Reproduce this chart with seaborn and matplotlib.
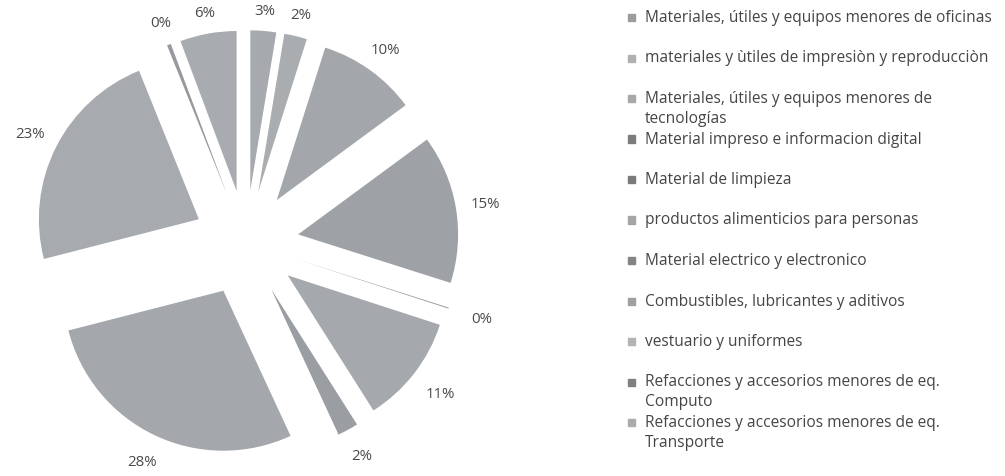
import matplotlib
matplotlib.use("Agg")
import numpy as np
import matplotlib.pyplot as plt
import seaborn as sns
from matplotlib.patches import Rectangle

# slice labels (legend order = clockwise order from 12 o'clock)
categories = [
    "Materiales, útiles y equipos menores de oficinas",
    "materiales y ùtiles de impresiòn y reproducciòn",
    "Materiales, útiles y equipos menores de\ntecnologías",
    "Material impreso e informacion digital",
    "Material de limpieza",
    "productos alimenticios para personas",
    "Material electrico y electronico",
    "Combustibles, lubricantes y aditivos",
    "vestuario y uniformes",
    "Refacciones y accesorios menores de eq.\nComputo",
    "Refacciones y accesorios menores de eq.\nTransporte",
]
shares = [2.6, 2.3, 10.0, 15.0, 0.1, 11.0, 2.1, 27.9, 22.9, 0.4, 5.7]

# scanned greyscale tones, one per category
slice_colors = ["#a6a9ad", "#aaadb0", "#a3a6aa", "#9ea1a6", "#95989c", "#a5a8ac",
                "#9a9da1", "#a4a7ab", "#a7aaae", "#96999d", "#a8abaf"]
legend_colors = ["#9c9c9c", "#b0b0b0", "#a8a8a8", "#7c7c7c", "#7a7a7a", "#a4a4a4",
                 "#848484", "#a0a0a0", "#b4b4b4", "#808080", "#ababab"]

sns.set_theme(style="white")
plt.rcParams["font.family"] = ["Open Sans", "DejaVu Sans"]

W, H = 1005, 477
EXPLODE = 0.33
fig = plt.figure(figsize=(W / 100, H / 100), dpi=100)
fig.patch.set_facecolor("white")

# pie axes: centre at (246, 244) px, radius 160 px
ax = fig.add_axes([0, 0, 492 / W, 1])
wedges, _, autotexts = ax.pie(
    shares, colors=slice_colors, startangle=90, counterclock=False,
    explode=[EXPLODE] * len(shares), autopct="%1.0f%%", pctdistance=1.16,
    wedgeprops={"linewidth": 0},
    textprops={"fontsize": 10.8, "color": "#4a4a4a"})

# place percentage labels just outside each slice, like Excel's outside-end labels
for w, t in zip(wedges, autotexts):
    ang = np.deg2rad((w.theta1 + w.theta2) / 2)
    dx, dy = np.cos(ang), np.sin(ang)
    dist = EXPLODE + 1.12 + 0.07 * abs(dx) + (0.03 if dy < 0 else 0.0)
    t.set_position((dx * dist, dy * dist))

ax.set_xlim(-246 / 160, (492 - 246) / 160)
ax.set_ylim(-(H - 244) / 160, 244 / 160)
ax.set_aspect("auto")
ax.axis("off")

# legend drawn as text rows
row0, step = 18, 40.5
for i, (lab, col) in enumerate(zip(categories, legend_colors)):
    yc = row0 + i * step
    fig.patches.append(Rectangle((628 / W, 1 - (yc + 4) / H), 7 / W, 7 / H,
                                 transform=fig.transFigure, color=col))
    fig.text(645 / W, 1 - (yc - 8) / H, lab, fontsize=11.2, color="#454545",
             va="top", ha="left", linespacing=1.3)

fig.savefig("out.png", dpi=100, facecolor="white")
